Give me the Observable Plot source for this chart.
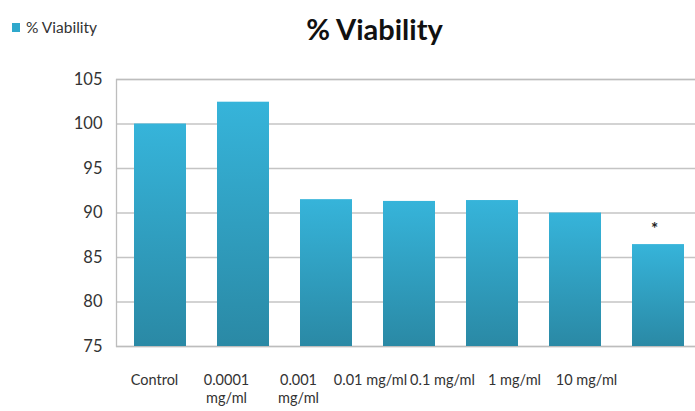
<!DOCTYPE html>
<html>
<head>
<meta charset="utf-8">
<script src="https://cdn.jsdelivr.net/npm/d3@7"></script>
<script src="https://cdn.jsdelivr.net/npm/@observablehq/plot@0.6"></script>
<style>
  html, body { margin: 0; padding: 0; background: #fff; overflow: hidden; }
  body { width: 695px; height: 411px; font-family: Lato, "Open Sans", sans-serif; }
  #header { position: relative; height: 60px; }
  #legend { position: absolute; left: 12px; top: 18px; font-size: 15.5px; color: #333; display: flex; align-items: center; }
  #legend .sw { width: 8px; height: 9px; background: #2fa8cc; margin-right: 6px; }
  #title { position: absolute; left: 0; width: 749px; text-align: center; top: 11px; font-size: 29px; font-weight: bold; color: #111; }
  svg { display: block; }
</style>
</head>
<body>
<div id="header">
  <div id="legend"><span class="sw"></span><span>% Viability</span></div>
  <div id="title">% Viability</div>
</div>
<div id="chart"></div>
<div id="labels"></div>
<script>
const categories = ["Control", "0.0001 mg/ml", "0.001 mg/ml", "0.01 mg/ml", "0.1 mg/ml", "1 mg/ml", "10 mg/ml"];
const tickLabels = ["Control", "0.0001\nmg/ml", "0.001\nmg/ml", "0.01 mg/ml", "0.1 mg/ml", "1 mg/ml", "10 mg/ml"];
const viability = [100.0, 102.45, 91.5, 91.3, 91.4, 90.0, 86.45];
const yTicks = [75, 80, 85, 90, 95, 100, 105];
const significant = ["10 mg/ml"];

const data = categories.map((c, i) => ({category: c, value: viability[i]}));
const stars = data.filter(d => significant.includes(d.category));

const gradientDefs = () => {
  const defs = d3.create("svg:defs");
  const g = defs.append("linearGradient").attr("id", "barGrad")
    .attr("x1", 0).attr("y1", 0).attr("x2", 0).attr("y2", 1);
  g.append("stop").attr("offset", "0%").attr("stop-color", "#36b4da");
  g.append("stop").attr("offset", "100%").attr("stop-color", "#2a89a5");
  return defs.node();
};

const chart = Plot.plot({
  width: 695,
  height: 300,
  marginTop: 19,
  marginBottom: 14,
  marginLeft: 116,
  marginRight: -8,
  style: {fontFamily: "Lato, 'Open Sans', sans-serif", fontSize: "16px", color: "#333"},
  x: {domain: categories, range: [117, 702], paddingInner: 0.37, paddingOuter: 0.185, axis: null},
  y: {domain: [75, 105], ticks: yTicks},
  marks: [
    gradientDefs,
    Plot.gridY(yTicks, {stroke: "#c4c4c4", strokeOpacity: 1, strokeWidth: 1.3}),
    Plot.frame({stroke: "#bdbdbd", strokeWidth: 1.3}),
    Plot.barY(data, {x: "category", y1: 75, y2: "value", fill: "url(#barGrad)"}),
    Plot.axisY(yTicks, {tickSize: 0, tickPadding: 14, label: null, fontSize: 16.5, fill: "#333"}),
    Plot.text(stars, {x: "category", y: "value", text: () => "*", dy: -15, dx: -4, fontSize: 17, fontWeight: "bold", fill: "#222"})
  ]
});
document.getElementById("chart").appendChild(chart);

const labels = Plot.plot({
  width: 695,
  height: 51,
  marginTop: 0,
  marginBottom: 40,
  marginLeft: 0,
  marginRight: 0,
  style: {fontFamily: "Lato, 'Open Sans', sans-serif", fontSize: "14.5px", color: "#333"},
  x: {type: "band", domain: categories, range: [115.75, 623.25], padding: 0},
  marks: [
    Plot.axisX({tickSize: 0, tickPadding: 1, label: null, fontSize: 14.5, fill: "#333", lineHeight: 1.25, tickFormat: (d) => tickLabels[categories.indexOf(d)]})
  ]
});
document.getElementById("labels").appendChild(labels);
</script>
</body>
</html>
